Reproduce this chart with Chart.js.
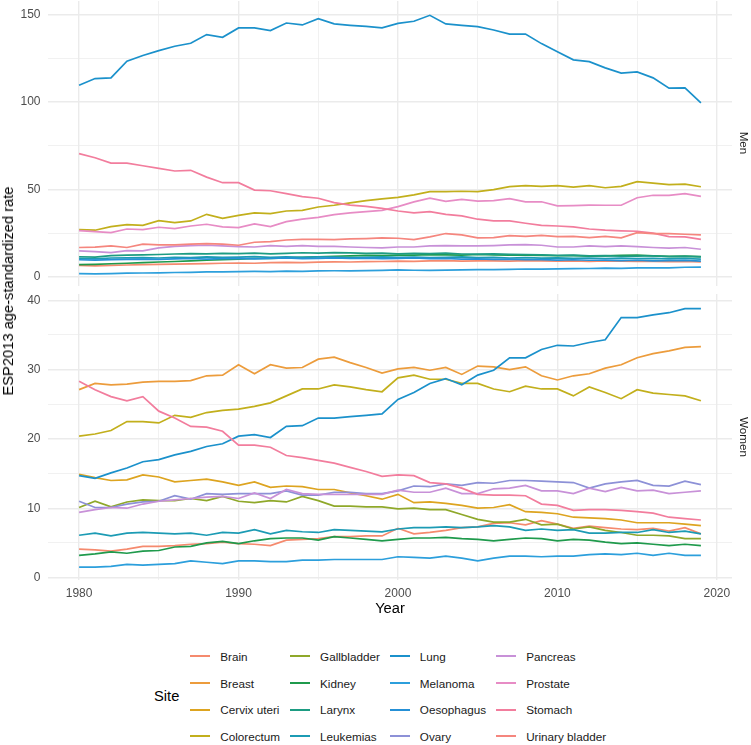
<!DOCTYPE html>
<html>
<head>
<meta charset="utf-8">
<script src="https://cdn.jsdelivr.net/npm/chart.js@4.4.1/dist/chart.umd.min.js"></script>
<style>
  body { margin: 0; background: #fff; font-family: 'Liberation Sans', Arial, sans-serif; }
  #page { position: relative; width: 751px; height: 745px; overflow: hidden; }
  .panel { position: absolute; left: 0; width: 751px; }
  #men-box { top: 0; height: 290px; }
  #women-box { top: 293px; height: 310px; }
  .ytitle { position: absolute; left: 8px; top: 291px; transform: translate(-50%, -50%) rotate(-90deg); font-size: 14.7px; color: #000; white-space: nowrap; }
  .xtitle { position: absolute; left: 390px; top: 608px; transform: translate(-50%, -50%); font-size: 14.7px; color: #000; }
  .strip { position: absolute; left: 744px; transform: translate(-50%, -50%) rotate(90deg); font-size: 11.7px; color: #1a1a1a; white-space: nowrap; }
  #legend { position: absolute; left: 154px; top: 643px; display: flex; align-items: center; }
  #legend .ltitle { font-size: 14.7px; color: #000; margin-right: 11px; }
  #legend-items { display: grid; grid-template-rows: repeat(4, 26.7px); grid-auto-flow: column; column-gap: 10px; }
  .item { display: flex; align-items: center; font-size: 11.7px; color: #1a1a1a; white-space: nowrap; }
  .key { width: 20px; height: 2px; margin-right: 10px; }
</style>
</head>
<body>
<div id="page">
  <div class="panel" id="men-box"><canvas id="men"></canvas></div>
  <div class="panel" id="women-box"><canvas id="women"></canvas></div>
  <div class="ytitle">ESP2013 age-standardized rate</div>
  <div class="xtitle">Year</div>
  <div class="strip" style="top:143px">Men</div>
  <div class="strip" style="top:437px">Women</div>
  <div id="legend"><div class="ltitle">Site</div><div id="legend-items"></div></div>
</div>
<script>
const years = [1980, 1981, 1982, 1983, 1984, 1985, 1986, 1987, 1988, 1989,
  1990, 1991, 1992, 1993, 1994, 1995, 1996, 1997, 1998, 1999,
  2000, 2001, 2002, 2003, 2004, 2005, 2006, 2007, 2008, 2009,
  2010, 2011, 2012, 2013, 2014, 2015, 2016, 2017, 2018, 2019];

const sites = ['Brain', 'Breast', 'Cervix uteri', 'Colorectum', 'Gallbladder', 'Kidney', 'Larynx', 'Leukemias',
  'Lung', 'Melanoma', 'Oesophagus', 'Ovary', 'Pancreas', 'Prostate', 'Stomach', 'Urinary bladder'];
const siteColors = ['#F58A6E', '#EC9C3C', '#DDA420', '#C2AF1C', '#8FA82A', '#1F9A4C', '#1D9C82', '#1C9BB4',
  '#1B91CB', '#2C9FDC', '#2590D6', '#8D91D7', '#C891D8', '#E78CC5', '#F27D9D', '#F5867E'];

const xMajorTicks = [1980, 1990, 2000, 2010, 2020];
const xMinorTicks = [1985, 1995, 2005, 2015];
const menMajorTicks = [0, 50, 100, 150];
const menMinorTicks = [25, 75, 125];
const womenMajorTicks = [0, 10, 20, 30, 40];
const womenMinorTicks = [5, 15, 25, 35];

// Men
const menLung = [109.7, 113.5, 113.9, 123.4, 126.7, 129.5, 132.0, 133.7, 138.7, 137.1, 142.5, 142.5, 141.0, 145.3, 144.2, 147.8, 144.8, 144.0, 143.4, 142.5,
  145.1, 146.3, 149.7, 144.8, 144.0, 143.2, 141.3, 138.9, 139.0, 133.5, 128.8, 124.2, 123.2, 119.6, 116.6, 117.3, 113.9, 108.0, 108.2, 99.6];
const menStomach = [70.5, 68.2, 65.1, 65.1, 63.6, 62.1, 60.6, 61.0, 57.1, 53.9, 53.9, 49.7, 49.3, 47.6, 45.9, 45.0, 42.5, 41.1, 40.4, 39.2,
  37.7, 36.6, 37.3, 35.8, 34.9, 33.0, 32.0, 32.0, 30.7, 29.5, 29.1, 28.6, 27.4, 26.7, 26.3, 26.1, 25.0, 23.0, 22.9, 21.5];
const menColorectum = [27.0, 26.7, 28.8, 29.9, 29.5, 32.2, 31.0, 32.0, 35.8, 33.5, 35.2, 36.6, 36.2, 37.7, 38.1, 40.0, 41.0, 42.3, 43.6, 44.6,
  45.5, 46.9, 48.8, 48.8, 49.0, 48.8, 49.9, 51.6, 52.2, 51.8, 52.2, 51.4, 52.2, 51.0, 51.8, 54.5, 53.7, 52.8, 53.1, 51.6];
const menProstate = [26.5, 25.9, 25.3, 27.4, 27.0, 28.4, 27.6, 29.1, 30.1, 28.6, 28.2, 30.3, 28.8, 31.6, 33.0, 34.1, 35.6, 36.6, 37.3, 38.1,
  40.2, 42.9, 45.1, 43.2, 44.4, 43.4, 43.6, 44.8, 42.9, 43.0, 40.6, 40.8, 41.1, 41.0, 41.0, 45.3, 46.7, 46.7, 47.6, 46.1];
const menUrinaryBladder = [16.8, 17.0, 17.7, 16.8, 18.7, 18.3, 18.3, 18.7, 19.0, 18.7, 18.1, 19.8, 20.2, 21.1, 21.5, 21.5, 21.3, 21.7, 21.9, 22.3,
  22.1, 21.3, 22.9, 24.8, 24.0, 22.3, 22.5, 23.6, 23.2, 23.8, 23.0, 23.2, 22.5, 23.2, 22.3, 25.3, 24.8, 24.8, 24.4, 24.0];
const menPancreas = [14.9, 14.5, 13.9, 15.0, 14.9, 16.6, 17.5, 17.9, 18.1, 17.7, 17.3, 17.1, 17.9, 17.5, 17.9, 17.5, 17.5, 17.1, 16.8, 16.6,
  17.1, 17.1, 17.7, 17.9, 17.7, 17.7, 17.9, 18.3, 18.5, 18.1, 17.1, 17.1, 17.7, 17.3, 17.7, 17.3, 16.8, 16.4, 16.8, 15.8];
const menLarynx = [11.5, 11.3, 12.2, 12.5, 12.6, 12.8, 13.1, 13.3, 13.2, 13.5, 13.3, 13.6, 13.2, 13.5, 13.8, 13.6, 13.9, 13.7, 13.5, 13.6,
  13.2, 13.4, 13.3, 13.6, 13.1, 13.0, 13.2, 12.9, 12.8, 12.6, 12.3, 12.4, 12.0, 12.2, 11.8, 11.9, 12.1, 11.6, 11.7, 11.4];
const menKidney = [7.0, 7.2, 7.5, 7.8, 8.2, 8.5, 8.8, 9.2, 9.5, 9.9, 10.1, 10.5, 10.6, 10.9, 11.2, 11.5, 11.8, 12.0, 12.3, 12.2,
  12.4, 12.5, 12.7, 12.6, 12.5, 12.8, 12.6, 12.4, 12.5, 12.3, 12.1, 12.2, 11.9, 12.0, 12.3, 12.4, 12.0, 11.7, 11.9, 11.6];
const menLeukemias = [10.6, 10.3, 10.8, 10.9, 11.0, 10.8, 11.2, 11.0, 11.4, 11.1, 11.3, 11.6, 11.2, 11.4, 11.1, 11.5, 11.3, 11.0, 11.2, 11.4,
  11.1, 11.3, 11.0, 11.2, 11.4, 11.0, 11.1, 10.8, 11.0, 10.7, 10.9, 10.6, 10.8, 10.5, 10.7, 10.4, 10.6, 10.3, 10.5, 10.2];
const menOesophagus = [9.8, 9.6, 9.9, 10.0, 10.2, 10.0, 10.3, 10.5, 10.2, 10.4, 10.6, 10.3, 10.5, 10.8, 10.4, 10.6, 10.9, 10.5, 10.7, 10.4,
  10.6, 10.8, 10.4, 10.5, 10.2, 10.3, 10.0, 10.1, 9.8, 9.9, 9.6, 9.8, 9.5, 9.6, 9.3, 9.5, 9.2, 9.3, 9.4, 9.0];
const menBrain = [6.5, 6.3, 6.6, 6.8, 7.0, 7.1, 7.3, 7.4, 7.6, 7.8, 7.9, 7.8, 8.1, 8.3, 8.2, 8.4, 8.6, 8.5, 8.7, 8.8,
  9.0, 8.9, 9.1, 9.3, 9.0, 9.2, 9.1, 9.0, 9.3, 9.1, 9.0, 9.2, 8.9, 9.1, 9.0, 8.8, 8.9, 8.7, 8.9, 8.5];
const menMelanoma = [1.8, 1.7, 1.9, 2.1, 2.2, 2.3, 2.5, 2.6, 2.8, 2.9, 3.0, 3.1, 3.0, 3.3, 3.2, 3.4, 3.5, 3.4, 3.6, 3.7,
  4.0, 3.8, 3.7, 3.9, 4.0, 4.1, 4.2, 4.3, 4.5, 4.4, 4.6, 4.7, 4.8, 5.0, 4.9, 5.1, 5.2, 5.1, 5.5, 5.6];

// Women
const womenLung = [14.7, 14.3, 15.1, 15.8, 16.7, 17.0, 17.7, 18.2, 18.9, 19.3, 20.4, 20.6, 20.2, 21.8, 21.9, 23.0, 23.0, 23.2, 23.4, 23.6,
  25.7, 26.7, 28.0, 28.7, 27.8, 29.2, 29.9, 31.7, 31.7, 32.9, 33.5, 33.4, 33.9, 34.3, 37.5, 37.5, 37.9, 38.2, 38.8, 38.8];
const womenBreast = [27.1, 28.0, 27.8, 27.9, 28.2, 28.3, 28.3, 28.4, 29.1, 29.2, 30.7, 29.4, 30.7, 30.2, 30.3, 31.5, 31.8, 31.0, 30.3, 29.5,
  30.1, 30.3, 29.9, 30.3, 29.3, 30.5, 30.4, 30.0, 30.4, 29.1, 28.5, 29.1, 29.4, 30.2, 30.7, 31.7, 32.3, 32.7, 33.2, 33.3];
const womenColorectum = [20.4, 20.7, 21.2, 22.5, 22.5, 22.3, 23.4, 23.1, 23.8, 24.1, 24.3, 24.7, 25.2, 26.2, 27.2, 27.2, 27.8, 27.5, 27.1, 26.8,
  28.8, 29.2, 28.6, 28.6, 28.0, 28.0, 27.2, 26.8, 27.6, 27.2, 27.2, 26.2, 27.5, 26.7, 25.8, 27.1, 26.6, 26.4, 26.2, 25.5];
const womenStomach = [28.3, 27.1, 26.1, 25.5, 26.1, 24.0, 23.0, 21.8, 21.7, 21.1, 19.1, 19.1, 18.8, 17.6, 17.3, 16.9, 16.5, 15.9, 15.3, 14.6,
  14.8, 14.7, 13.7, 13.5, 12.9, 12.0, 11.9, 11.9, 11.8, 10.6, 10.4, 9.7, 9.8, 9.8, 9.7, 9.5, 9.3, 8.7, 8.5, 8.3];
const womenOvary = [11.0, 10.1, 10.1, 10.6, 10.9, 11.0, 11.8, 11.3, 12.1, 12.0, 12.1, 12.1, 12.1, 12.5, 11.9, 11.9, 12.3, 12.3, 12.1, 12.1,
  12.5, 13.2, 13.1, 13.5, 13.3, 13.7, 13.6, 14.0, 14.0, 13.9, 13.8, 13.7, 12.9, 13.5, 13.8, 14.0, 13.3, 13.2, 13.9, 13.4];
const womenPancreas = [9.4, 9.8, 10.1, 10.0, 10.6, 11.0, 11.2, 11.4, 11.6, 11.7, 11.4, 12.2, 11.4, 12.7, 12.1, 12.0, 12.0, 12.0, 12.0, 12.0,
  12.6, 12.3, 12.3, 12.9, 12.1, 12.1, 12.8, 12.9, 13.3, 12.5, 12.5, 12.1, 12.9, 12.4, 13.0, 12.5, 12.6, 12.1, 12.3, 12.5];
const womenCervixUteri = [14.9, 14.4, 14.0, 14.1, 14.8, 14.5, 13.8, 14.0, 14.2, 13.8, 13.3, 13.8, 13.0, 13.2, 13.1, 12.7, 12.7, 12.2, 11.8, 11.3,
  12.0, 10.8, 10.9, 10.7, 10.4, 10.0, 10.1, 10.5, 9.5, 9.4, 9.2, 8.7, 8.6, 8.5, 8.3, 7.9, 7.9, 7.9, 7.7, 7.5];
const womenGallbladder = [10.1, 11.0, 10.2, 10.9, 11.2, 11.1, 11.1, 11.4, 11.1, 11.7, 11.0, 10.8, 11.1, 10.9, 11.7, 11.1, 10.3, 10.3, 10.2, 10.2,
  9.9, 10.0, 9.8, 9.8, 9.1, 8.4, 8.0, 8.0, 8.4, 7.6, 7.7, 7.0, 7.3, 6.8, 6.5, 6.1, 6.1, 6.0, 5.6, 5.6];
const womenBrain = [4.1, 4.0, 3.8, 4.1, 4.5, 4.5, 4.6, 4.8, 4.9, 5.1, 4.9, 4.8, 4.6, 5.4, 5.5, 5.6, 5.9, 5.9, 6.0, 6.0,
  7.1, 6.3, 6.5, 6.8, 7.2, 7.3, 7.8, 7.9, 7.6, 8.2, 7.7, 7.1, 7.4, 7.2, 7.0, 6.9, 7.1, 6.7, 7.2, 6.3];
const womenLeukemias = [6.1, 6.4, 6.0, 6.4, 6.5, 6.4, 6.3, 6.4, 6.1, 6.5, 6.4, 6.9, 6.3, 6.8, 6.6, 6.5, 6.9, 6.8, 6.7, 6.6,
  7.0, 7.2, 7.2, 7.3, 7.2, 7.3, 7.5, 7.3, 6.8, 7.0, 6.8, 6.9, 6.4, 6.4, 6.5, 6.5, 6.9, 6.5, 6.7, 6.3];
const womenKidney = [3.2, 3.4, 3.7, 3.5, 3.8, 3.9, 4.4, 4.5, 5.0, 5.2, 4.9, 5.3, 5.6, 5.7, 5.7, 5.4, 5.9, 5.7, 5.5, 5.3,
  5.5, 5.7, 5.7, 5.8, 5.6, 5.5, 5.3, 5.5, 5.7, 5.6, 5.3, 5.5, 5.4, 5.1, 4.9, 5.0, 4.8, 4.6, 4.8, 4.6];
const womenMelanoma = [1.5, 1.5, 1.6, 1.9, 1.8, 1.9, 2.0, 2.4, 2.2, 2.0, 2.4, 2.4, 2.3, 2.3, 2.5, 2.5, 2.6, 2.6, 2.6, 2.6,
  3.0, 2.9, 2.8, 3.1, 2.8, 2.4, 2.8, 3.1, 3.1, 3.0, 3.1, 3.1, 3.3, 3.4, 3.3, 3.5, 3.2, 3.5, 3.2, 3.2];

const menSeries = {
  'Brain': menBrain, 'Colorectum': menColorectum, 'Kidney': menKidney, 'Larynx': menLarynx, 'Leukemias': menLeukemias,
  'Lung': menLung, 'Melanoma': menMelanoma, 'Oesophagus': menOesophagus, 'Pancreas': menPancreas,
  'Prostate': menProstate, 'Stomach': menStomach, 'Urinary bladder': menUrinaryBladder
};
const womenSeries = {
  'Brain': womenBrain, 'Breast': womenBreast, 'Cervix uteri': womenCervixUteri, 'Colorectum': womenColorectum,
  'Gallbladder': womenGallbladder, 'Kidney': womenKidney, 'Leukemias': womenLeukemias, 'Lung': womenLung,
  'Melanoma': womenMelanoma, 'Ovary': womenOvary, 'Pancreas': womenPancreas, 'Stomach': womenStomach
};

const fontFamily = "'Liberation Sans', Arial, sans-serif";
const gridColor = '#EBEBEB';

function datasetsFor(series) {
  return sites.filter((site) => series[site]).map((site) => {
    const i = sites.indexOf(site);
    return {
      label: site,
      data: series[site].map((v, k) => ({ x: years[k], y: v })),
      borderColor: siteColors[i],
      borderWidth: 1.7,
      pointRadius: 0,
      tension: 0,
      fill: false,
      order: sites.length - i
    };
  });
}

function panel(id, series, yMin, yMax, yMajor, yMinor, showX) {
  new Chart(document.getElementById(id), {
    type: 'line',
    data: { datasets: datasetsFor(series) },
    options: {
      responsive: true,
      maintainAspectRatio: false,
      animation: false,
      layout: { padding: { top: 1, right: 19, bottom: 0, left: 0 } },
      plugins: { legend: { display: false }, tooltip: { enabled: false } },
      scales: {
        x: {
          type: 'linear', min: 1978.05, max: 2020.95,
          afterBuildTicks: (s) => { s.ticks = [...xMajorTicks, ...xMinorTicks].sort((a, b) => a - b).map((v) => ({ value: v })); },
          afterFit: (s) => { s.height = showX ? 22.7 : 3.7; s.paddingLeft = 0; s.paddingRight = 0; },
          border: { display: false },
          grid: {
            drawTicks: false, color: gridColor,
            lineWidth: (c) => (xMajorTicks.includes(c.tick.value) ? 1.4 : 0.7)
          },
          ticks: {
            display: showX, autoSkip: false, maxRotation: 0, padding: 6,
            color: '#4D4D4D', font: { family: fontFamily, size: 12 },
            callback: (v) => (xMajorTicks.includes(v) ? String(v) : '')
          }
        },
        y: {
          min: yMin, max: yMax,
          afterBuildTicks: (s) => { s.ticks = [...yMajor, ...yMinor].sort((a, b) => a - b).map((v) => ({ value: v })); },
          afterFit: (s) => { s.width = 48; s.paddingTop = 0; s.paddingBottom = 0; },
          border: { display: false },
          grid: {
            drawTicks: false, color: gridColor,
            lineWidth: (c) => (yMajor.includes(c.tick.value) ? 1.4 : 0.7)
          },
          ticks: {
            autoSkip: false, padding: 7.5,
            color: '#4D4D4D', font: { family: fontFamily, size: 12 },
            callback: (v) => (yMajor.includes(v) ? String(v) : '')
          }
        }
      }
    }
  });
}

panel('men', menSeries, -5.4, 157.9, menMajorTicks, menMinorTicks, false);
panel('women', womenSeries, -0.4, 40.9, womenMajorTicks, womenMinorTicks, true);

const legendItems = document.getElementById('legend-items');
sites.forEach((site, i) => {
  const item = document.createElement('div');
  item.className = 'item';
  item.innerHTML = `<span class="key" style="background:${siteColors[i]}"></span><span>${site}</span>`;
  legendItems.appendChild(item);
});
</script>
</body>
</html>
